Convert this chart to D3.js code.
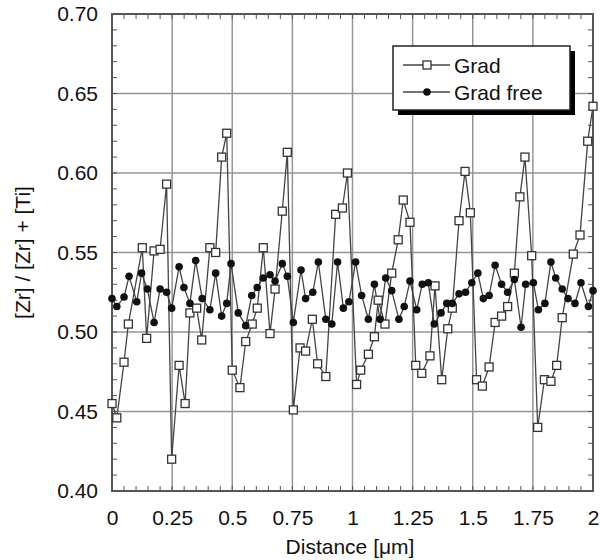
<!DOCTYPE html>
<html>
<head>
<meta charset="utf-8">
<script src="https://cdn.jsdelivr.net/npm/d3@7"></script>
<style>
  html, body { margin: 0; padding: 0; background: #fff; }
  svg { display: block; font-family: "Liberation Sans", Arial, sans-serif; }
</style>
</head>
<body>
<svg id="chart" width="600" height="560"></svg>
<script>
// ---- Data ----
const gradDistance = [0.000,0.020,0.050,0.068,0.126,0.144,0.175,0.200,0.227,0.248,0.279,0.304,0.324,0.352,0.373,0.407,0.431,0.456,0.477,0.500,0.532,0.556,0.583,0.604,0.629,0.657,0.678,0.708,0.729,0.754,0.782,0.805,0.833,0.855,0.889,0.930,0.958,0.979,1.017,1.034,1.066,1.091,1.107,1.135,1.163,1.190,1.211,1.239,1.263,1.288,1.322,1.343,1.371,1.396,1.415,1.443,1.468,1.490,1.516,1.540,1.568,1.593,1.620,1.645,1.673,1.696,1.717,1.745,1.770,1.798,1.825,1.849,1.872,1.918,1.946,1.978,2.000];
const gradValues = [0.455,0.446,0.481,0.505,0.553,0.496,0.551,0.552,0.593,0.420,0.479,0.455,0.512,0.515,0.495,0.553,0.550,0.610,0.625,0.476,0.465,0.494,0.505,0.515,0.553,0.499,0.527,0.576,0.613,0.451,0.490,0.488,0.508,0.480,0.472,0.574,0.578,0.600,0.467,0.476,0.486,0.497,0.520,0.505,0.537,0.558,0.583,0.569,0.479,0.474,0.485,0.529,0.470,0.502,0.515,0.570,0.601,0.575,0.470,0.466,0.478,0.506,0.510,0.516,0.537,0.585,0.610,0.548,0.440,0.470,0.469,0.479,0.509,0.549,0.561,0.620,0.642];

const freeDistance = [0.000,0.020,0.050,0.071,0.103,0.123,0.147,0.175,0.200,0.227,0.248,0.279,0.299,0.324,0.348,0.375,0.407,0.431,0.456,0.477,0.495,0.525,0.556,0.581,0.604,0.629,0.657,0.678,0.708,0.729,0.754,0.786,0.805,0.835,0.858,0.889,0.914,0.938,0.962,0.985,1.013,1.038,1.066,1.091,1.114,1.138,1.163,1.193,1.215,1.239,1.267,1.290,1.315,1.340,1.368,1.392,1.415,1.443,1.470,1.496,1.521,1.544,1.568,1.593,1.620,1.645,1.673,1.701,1.720,1.752,1.773,1.800,1.825,1.845,1.872,1.896,1.925,1.950,1.981,2.000];
const freeValues = [0.521,0.516,0.522,0.535,0.519,0.537,0.527,0.506,0.527,0.525,0.515,0.541,0.528,0.518,0.545,0.521,0.514,0.537,0.510,0.518,0.543,0.512,0.504,0.523,0.528,0.534,0.536,0.532,0.543,0.535,0.506,0.539,0.521,0.525,0.544,0.508,0.505,0.544,0.515,0.519,0.544,0.523,0.508,0.530,0.508,0.534,0.526,0.508,0.516,0.532,0.514,0.530,0.531,0.505,0.512,0.518,0.518,0.524,0.525,0.531,0.537,0.521,0.523,0.542,0.530,0.525,0.533,0.503,0.530,0.531,0.514,0.518,0.544,0.534,0.527,0.521,0.518,0.531,0.516,0.526];

const xTickValues = [0, 0.25, 0.5, 0.75, 1, 1.25, 1.5, 1.75, 2];
const xTickLabels = ["0", "0.25", "0.5", "0.75", "1", "1.25", "1.5", "1.75", "2"];
const yTickValues = [0.40, 0.45, 0.50, 0.55, 0.60, 0.65, 0.70];
const yTickLabels = ["0.40", "0.45", "0.50", "0.55", "0.60", "0.65", "0.70"];
const seriesNames = ["Grad", "Grad free"];
const xTitle = "Distance [\u03bcm]";
const yTitle = "[Zr] / [Zr] + [Ti]";

// ---- Layout ----
const svg = d3.select("#chart");
const L = 112, R = 593, T = 14, B = 491;
const x = d3.scaleLinear().domain([0, 2]).range([L, R]);
const y = d3.scaleLinear().domain([0.40, 0.70]).range([B, T]);

const frameColor = "#555";
const gridColor = "#959595";
const FS = 21;

// gridlines
const g = svg.append("g");
g.selectAll(".gx").data(xTickValues.slice(1, -1)).join("line")
  .attr("x1", d => x(d)).attr("x2", d => x(d)).attr("y1", T).attr("y2", B)
  .attr("stroke", gridColor).attr("stroke-width", 1.5);
g.selectAll(".gy").data(yTickValues.slice(1, -1)).join("line")
  .attr("y1", d => y(d)).attr("y2", d => y(d)).attr("x1", L).attr("x2", R)
  .attr("stroke", gridColor).attr("stroke-width", 1.5);

// minor ticks inward on all four sides
const xMinor = d3.range(0, 2.0001, 0.05);
const yMinor = d3.range(0.40, 0.70001, 0.01);
const tk = 5;
g.selectAll(".mxb").data(xMinor).join("line")
  .attr("x1", d => x(d)).attr("x2", d => x(d)).attr("y1", B).attr("y2", B - tk)
  .attr("stroke", frameColor).attr("stroke-width", 1);
g.selectAll(".mxt").data(xMinor).join("line")
  .attr("x1", d => x(d)).attr("x2", d => x(d)).attr("y1", T).attr("y2", T + tk)
  .attr("stroke", frameColor).attr("stroke-width", 1);
g.selectAll(".myl").data(yMinor).join("line")
  .attr("y1", d => y(d)).attr("y2", d => y(d)).attr("x1", L).attr("x2", L + tk)
  .attr("stroke", frameColor).attr("stroke-width", 1);
g.selectAll(".myr").data(yMinor).join("line")
  .attr("y1", d => y(d)).attr("y2", d => y(d)).attr("x1", R).attr("x2", R - tk)
  .attr("stroke", frameColor).attr("stroke-width", 1);

// frame
g.append("rect").attr("x", L).attr("y", T).attr("width", R - L).attr("height", B - T)
  .attr("fill", "none").attr("stroke", frameColor).attr("stroke-width", 2);

// axes labels via d3 axes (no lines)
const xAxis = d3.axisBottom(x).tickValues(xTickValues)
  .tickFormat((d, i) => xTickLabels[i]).tickSize(0).tickPadding(0);
const xa = svg.append("g").attr("transform", `translate(0,${B + 19})`).call(xAxis);
xa.select(".domain").remove();
xa.selectAll("text").attr("font-size", FS).attr("fill", "#111")
  .attr("font-family", "Liberation Sans, Arial, sans-serif").attr("dy", "0.71em");

const yAxis = d3.axisLeft(y).tickValues(yTickValues)
  .tickFormat((d, i) => yTickLabels[i]).tickSize(0).tickPadding(0);
const ya = svg.append("g").attr("transform", `translate(${L - 14},0)`).call(yAxis);
ya.select(".domain").remove();
ya.selectAll("text").attr("font-size", FS).attr("fill", "#111")
  .attr("font-family", "Liberation Sans, Arial, sans-serif");

svg.append("text").attr("x", 350).attr("y", 554)
  .attr("text-anchor", "middle").attr("font-size", FS).attr("fill", "#111")
  .text(xTitle);
svg.append("text").attr("transform", `translate(30,${(T + B) / 2}) rotate(-90)`)
  .attr("text-anchor", "middle").attr("font-size", FS).attr("fill", "#111")
  .text(yTitle);

// ---- Series ----
const lineColor = "#444";
const gradData = gradDistance.map((d, i) => [d, gradValues[i]]);
const freeData = freeDistance.map((d, i) => [d, freeValues[i]]);
const line = d3.line().x(d => x(d[0])).y(d => y(d[1]));

svg.append("path").datum(freeData).attr("d", line)
  .attr("fill", "none").attr("stroke", lineColor).attr("stroke-width", 1.3);
svg.append("path").datum(gradData).attr("d", line)
  .attr("fill", "none").attr("stroke", lineColor).attr("stroke-width", 1.3);

const sq = 8;
svg.append("g").selectAll("rect").data(gradData).join("rect")
  .attr("x", d => x(d[0]) - sq / 2).attr("y", d => y(d[1]) - sq / 2)
  .attr("width", sq).attr("height", sq)
  .attr("fill", "#fff").attr("stroke", "#333").attr("stroke-width", 1.3);
svg.append("g").selectAll("circle").data(freeData).join("circle")
  .attr("cx", d => x(d[0])).attr("cy", d => y(d[1])).attr("r", 3.8)
  .attr("fill", "#111");

// ---- Legend ----
const lg = svg.append("g");
const lx = 393, ly = 46, lw = 177, lh = 64;
lg.append("rect").attr("x", lx + 5).attr("y", ly + 5).attr("width", lw).attr("height", lh).attr("fill", "#000");
lg.append("rect").attr("x", lx).attr("y", ly).attr("width", lw).attr("height", lh)
  .attr("fill", "#fff").attr("stroke", "#222").attr("stroke-width", 1.5);
const rows = [ly + 19, ly + 46];
rows.forEach((ry, i) => {
  lg.append("line").attr("x1", lx + 10).attr("x2", lx + 57).attr("y1", ry).attr("y2", ry)
    .attr("stroke", lineColor).attr("stroke-width", 1.3);
  if (i === 0) {
    lg.append("rect").attr("x", lx + 34 - sq / 2).attr("y", ry - sq / 2).attr("width", sq).attr("height", sq)
      .attr("fill", "#fff").attr("stroke", "#333").attr("stroke-width", 1.3);
  } else {
    lg.append("circle").attr("cx", lx + 34).attr("cy", ry).attr("r", 3.8).attr("fill", "#111");
  }
  lg.append("text").attr("x", lx + 61).attr("y", ry).attr("dy", "0.36em")
    .attr("font-size", FS).attr("fill", "#111").text(seriesNames[i]);
});
</script>
</body>
</html>
